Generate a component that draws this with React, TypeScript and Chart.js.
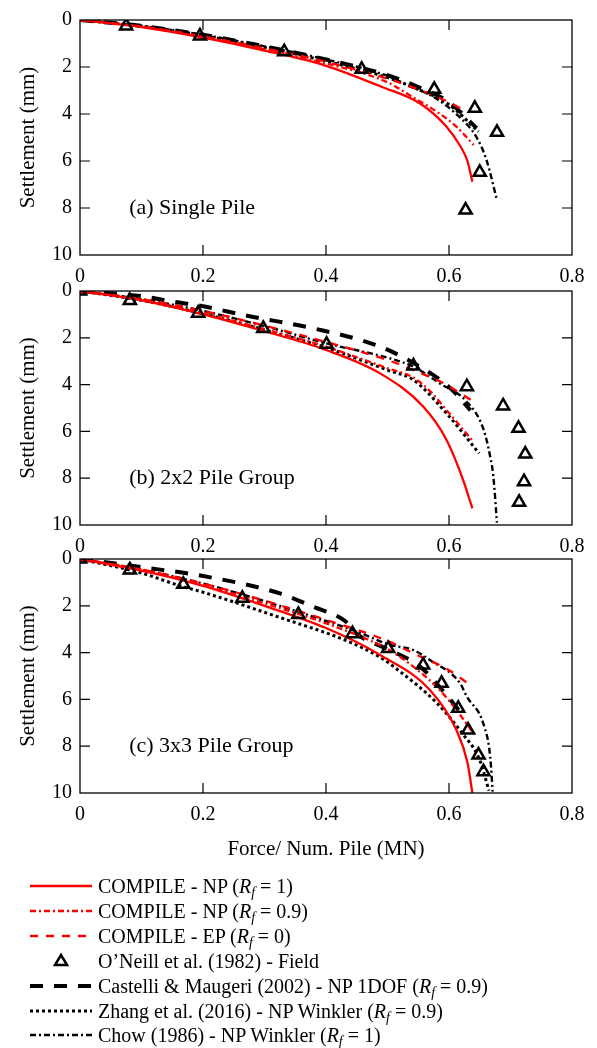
import React, { useEffect, useRef } from 'react';
import { Chart, registerables } from 'chart.js';
Chart.register(...registerables);

const FONT = "'Liberation Serif', 'Times New Roman', serif";

const xTickLabels = ['0', '0.2', '0.4', '0.6', '0.8'];
const yTickLabels = ['0', '2', '4', '6', '8', '10'];
const xTitle = 'Force/ Num. Pile (MN)';
const yTitle = 'Settlement (mm)';
const panelLabels = ['(a) Single Pile', '(b) 2x2 Pile Group', '(c) 3x3 Pile Group'];

// ---------- Panel (a) Single pile ----------
const aNP1 = [[0, 0], [0.1, 0.3], [0.2, 0.75], [0.3, 1.3], [0.4, 1.95], [0.49, 2.84], [0.553, 3.55], [0.596, 4.54], [0.618, 5.35], [0.63, 6.0], [0.638, 6.88]];
const aNP09 = [[0, 0], [0.1, 0.28], [0.2, 0.72], [0.3, 1.25], [0.4, 1.85], [0.5, 2.65], [0.542, 3.3], [0.58, 3.9], [0.612, 4.54], [0.64, 5.32]];
const aEP0 = [[0, 0], [0.1, 0.28], [0.2, 0.7], [0.3, 1.2], [0.4, 1.78], [0.5, 2.5], [0.55, 2.95], [0.6, 3.5], [0.625, 3.85]];
const aField = [[0.075, 0.25], [0.195, 0.68], [0.332, 1.35], [0.458, 2.1], [0.576, 2.95], [0.642, 3.76], [0.678, 4.78], [0.65, 6.48], [0.627, 8.09]];
const aCastelli = [[0, 0], [0.1, 0.25], [0.2, 0.63], [0.3, 1.12], [0.4, 1.68], [0.5, 2.35], [0.55, 2.85], [0.6, 3.5], [0.645, 4.6]];
const aZhang = [[0, 0], [0.1, 0.26], [0.2, 0.66], [0.3, 1.17], [0.4, 1.75], [0.5, 2.45], [0.55, 2.95], [0.6, 3.6], [0.648, 4.75]];
const aChow = [[0, 0], [0.1, 0.25], [0.2, 0.63], [0.3, 1.12], [0.4, 1.68], [0.5, 2.38], [0.534, 2.8], [0.574, 3.26], [0.62, 4.2], [0.645, 5.0], [0.661, 5.96], [0.678, 7.66]];

// ---------- Panel (b) 2x2 group ----------
const bNP1 = [[0, 0], [0.1, 0.4], [0.2, 1.0], [0.3, 1.72], [0.4, 2.52], [0.488, 3.52], [0.558, 4.94], [0.596, 6.37], [0.623, 8.08], [0.638, 9.29]];
const bNP09 = [[0, 0], [0.1, 0.38], [0.2, 0.95], [0.3, 1.63], [0.4, 2.38], [0.5, 3.3], [0.542, 3.7], [0.57, 4.3], [0.596, 5.09], [0.64, 6.45]];
const bEP0 = [[0, 0], [0.1, 0.35], [0.2, 0.85], [0.3, 1.48], [0.4, 2.18], [0.5, 2.95], [0.542, 3.38], [0.591, 3.94], [0.64, 4.73]];
const bField = [[0, 0], [0.081, 0.41], [0.192, 0.95], [0.298, 1.6], [0.401, 2.28], [0.542, 3.2], [0.629, 4.09], [0.688, 4.91], [0.713, 5.87], [0.724, 6.97], [0.722, 8.15], [0.714, 9.03]];
const bCastelli = [[0, 0], [0.1, 0.22], [0.15, 0.45], [0.2, 0.65], [0.27, 1.05], [0.38, 1.6], [0.48, 2.3], [0.53, 2.9], [0.6, 4.1], [0.635, 5.1]];
const bZhang = [[0, 0], [0.1, 0.4], [0.2, 0.97], [0.3, 1.66], [0.4, 2.42], [0.5, 3.38], [0.542, 3.8], [0.596, 5.23], [0.649, 6.94]];
const bChow = [[0, 0], [0.1, 0.35], [0.2, 0.85], [0.3, 1.5], [0.401, 2.24], [0.5, 2.85], [0.542, 3.23], [0.585, 3.95], [0.629, 4.73], [0.656, 5.9], [0.667, 7.08], [0.672, 7.9], [0.678, 9.9]];

// ---------- Panel (c) 3x3 group ----------
const cNP1 = [[0, 0], [0.1, 0.5], [0.2, 1.15], [0.3, 2.0], [0.4, 2.95], [0.488, 4.1], [0.569, 5.6], [0.612, 7.31], [0.63, 8.7], [0.638, 10]];
const cNP09 = [[0, 0], [0.1, 0.45], [0.2, 1.1], [0.3, 1.9], [0.4, 2.75], [0.5, 3.85], [0.542, 4.6], [0.585, 5.6], [0.612, 6.45], [0.637, 7.35]];
const cEP0 = [[0, 0], [0.1, 0.45], [0.2, 1.05], [0.3, 1.78], [0.4, 2.6], [0.5, 3.5], [0.542, 4.03], [0.6, 4.75], [0.638, 5.46]];
const cField = [[0, 0], [0.081, 0.47], [0.168, 1.08], [0.264, 1.68], [0.355, 2.37], [0.443, 3.19], [0.501, 3.82], [0.558, 4.53], [0.588, 5.31], [0.615, 6.38], [0.631, 7.31], [0.648, 8.38], [0.656, 9.09]];
const cCastelli = [[0, 0], [0.054, 0.18], [0.1, 0.35], [0.19, 0.68], [0.325, 1.47], [0.379, 2.04], [0.431, 2.65], [0.45, 3.2], [0.5, 3.85], [0.553, 4.6], [0.607, 6.17], [0.62, 6.6]];
const cZhang = [[0, 0], [0.1, 0.6], [0.163, 1.15], [0.2, 1.42], [0.325, 2.5], [0.434, 3.5], [0.488, 4.2], [0.515, 4.7], [0.58, 6.15], [0.62, 7.4], [0.65, 8.59], [0.665, 9.9]];
const cChow = [[0, 0], [0.1, 0.45], [0.2, 1.05], [0.3, 1.8], [0.4, 2.65], [0.45, 3.1], [0.504, 3.67], [0.542, 3.89], [0.569, 4.32], [0.618, 5.31], [0.629, 5.88], [0.656, 7.05], [0.667, 8.45], [0.671, 9.94]];

// ---------- Legend ----------
const legendNames = [
  'COMPILE - NP',
  'COMPILE - NP',
  'COMPILE - EP',
  'O\u2019Neill et al. (1982) - Field',
  'Castelli & Maugeri (2002) - NP 1DOF',
  'Zhang et al. (2016) - NP Winkler',
  'Chow (1986) - NP Winkler',
];
const legendRf = ['1', '0.9', '0', '', '0.9', '0.9', '1'];

type Style = { color: string; width: number; dash: number[]; marker?: boolean };
const seriesStyles: Style[] = [
  { color: '#ff0000', width: 2.3, dash: [] },
  { color: '#ff0000', width: 2.3, dash: [6, 3, 2, 3] },
  { color: '#ff0000', width: 2.3, dash: [8, 8] },
  { color: '#000000', width: 2.5, dash: [], marker: true },
  { color: '#000000', width: 4, dash: [13, 11] },
  { color: '#000000', width: 3, dash: [3, 3] },
  { color: '#000000', width: 2.4, dash: [6, 3, 2, 3] },
];

const panelSeries = [
  [aNP1, aNP09, aEP0, aField, aCastelli, aZhang, aChow],
  [bNP1, bNP09, bEP0, bField, bCastelli, bZhang, bChow],
  [cNP1, cNP09, cEP0, cField, cCastelli, cZhang, cChow],
];

function buildDatasets(series: number[][][]) {
  const ds: any[] = series.map((pts, i) => {
    const st = seriesStyles[i];
    const data = pts.map(([x, y]) => ({ x, y }));
    if (st.marker) {
      return {
        data,
        showLine: false,
        pointStyle: 'triangle',
        pointRadius: 7,
        pointBorderWidth: st.width,
        pointBorderColor: st.color,
        pointBackgroundColor: 'rgba(0,0,0,0)',
        order: 0,
      };
    }
    return {
      data,
      showLine: true,
      borderColor: st.color,
      borderWidth: st.width,
      borderDash: st.dash,
      pointRadius: 0,
      fill: false,
      cubicInterpolationMode: 'monotone',
      order: 1,
    };
  });
  return ds;
}

function makeFramePlugin(label: string) {
  return {
    id: 'frameTicks',
    afterDraw(chart: any) {
      const { ctx, chartArea: ca, scales } = chart;
      const xs = scales.x, ys = scales.y;
      ctx.save();
      ctx.strokeStyle = '#000';
      ctx.lineWidth = 1.3;
      ctx.strokeRect(ca.left, ca.top, ca.right - ca.left, ca.bottom - ca.top);
      ctx.lineWidth = 1.2;
      ctx.beginPath();
      xs.ticks.forEach((t: any) => {
        const px = xs.getPixelForValue(t.value);
        if (px <= ca.left + 1 || px >= ca.right - 1) return;
        ctx.moveTo(px, ca.bottom); ctx.lineTo(px, ca.bottom - 10);
        ctx.moveTo(px, ca.top); ctx.lineTo(px, ca.top + 10);
      });
      ys.ticks.forEach((t: any) => {
        const py = ys.getPixelForValue(t.value);
        if (py <= ca.top + 1 || py >= ca.bottom - 1) return;
        ctx.moveTo(ca.left, py); ctx.lineTo(ca.left + 10, py);
        ctx.moveTo(ca.right, py); ctx.lineTo(ca.right - 10, py);
      });
      ctx.stroke();
      ctx.font = `22px ${FONT}`;
      ctx.fillStyle = '#000';
      ctx.textAlign = 'left';
      ctx.textBaseline = 'middle';
      ctx.fillText(label, xs.getPixelForValue(0.08), ys.getPixelForValue(8));
      ctx.restore();
    },
  };
}

type PanelProps = {
  idx: number; top: number; height: number; padTop: number; xHeight: number; showXTitle: boolean; titlePadBottom: number;
};

function Panel({ idx, top, height, padTop, xHeight, showXTitle, titlePadBottom }: PanelProps) {
  const ref = useRef<HTMLCanvasElement>(null);
  useEffect(() => {
    const chart = new Chart(ref.current as HTMLCanvasElement, {
      type: 'scatter',
      data: { datasets: buildDatasets(panelSeries[idx]) },
      options: {
        responsive: false,
        maintainAspectRatio: false,
        animation: false,
        devicePixelRatio: 1,
        layout: { padding: { top: padTop, right: 25, left: 0, bottom: 0 } },
        plugins: { legend: { display: false }, tooltip: { enabled: false } },
        scales: {
          x: {
            type: 'linear', min: 0, max: 0.8,
            ticks: {
              stepSize: 0.2, padding: 10, color: '#000',
              font: { family: FONT, size: 20 },
              callback: (v: any) => xTickLabels[Math.round(Number(v) / 0.2)],
            },
            grid: { display: false, drawTicks: false },
            border: { display: false },
            title: {
              display: showXTitle, text: xTitle, color: '#000',
              font: { family: FONT, size: 21 },
              padding: { top: 0, bottom: titlePadBottom },
            },
            afterFit: (s: any) => { s.height = xHeight; s.paddingLeft = 0; s.paddingRight = 0; },
          },
          y: {
            type: 'linear', min: 0, max: 10, reverse: true,
            ticks: {
              stepSize: 2, padding: 8, color: '#000',
              font: { family: FONT, size: 20 },
              callback: (v: any) => yTickLabels[Math.round(Number(v) / 2)],
            },
            grid: { display: false, drawTicks: false },
            border: { display: false },
            title: {
              display: true, text: yTitle, color: '#000',
              font: { family: FONT, size: 21 },
              padding: { top: 16, bottom: 0 },
            },
            afterFit: (s: any) => { s.width = 80; s.paddingTop = 0; s.paddingBottom = 0; },
          },
        },
      } as any,
      plugins: [makeFramePlugin(panelLabels[idx])],
    });
    return () => chart.destroy();
  }, []);
  return (
    <canvas
      ref={ref}
      width={597}
      height={height}
      style={{ position: 'absolute', left: 0, top, width: 597, height }}
    />
  );
}

function LegendSample({ st }: { st: Style }) {
  if (st.marker) {
    return (
      <svg width={70} height={20} style={{ position: 'absolute', left: 28, top: 0 }}>
        <polygon points="61,4 67,14 55,14" transform="translate(-28,0)" fill="none" stroke="#000" strokeWidth={2.5} />
      </svg>
    );
  }
  return (
    <svg width={70} height={20} style={{ position: 'absolute', left: 28, top: 0 }}>
      <line x1={2} y1={10} x2={64} y2={10} stroke={st.color} strokeWidth={st.width}
        strokeDasharray={st.dash.length ? st.dash.join(' ') : undefined} />
    </svg>
  );
}

function Legend() {
  return (
    <div style={{ position: 'absolute', left: 0, top: 0, width: 597 }}>
      {legendNames.map((name, i) => {
        const cy = 886 + i * 24.9;
        return (
          <div key={i} style={{ position: 'absolute', left: 0, top: cy - 10, height: 20, width: 597 }}>
            <LegendSample st={seriesStyles[i]} />
            <div style={{
              position: 'absolute', left: 98, top: -2, height: 24, lineHeight: '24px',
              fontFamily: FONT, fontSize: 20, color: '#000', whiteSpace: 'nowrap',
            }}>
              {name}
              {legendRf[i] !== '' && (
                <>
                  {' ('}
                  <i>R</i>
                  <i style={{ fontSize: 14, position: 'relative', top: 4 }}>f</i>
                  {` = ${legendRf[i]})`}
                </>
              )}
            </div>
          </div>
        );
      })}
    </div>
  );
}

export default function App() {
  return (
    <div style={{ position: 'absolute', left: 0, top: 0, width: 597, height: 1048, background: '#fff' }}>
      <Panel idx={0} top={0} height={285} padTop={20} xHeight={30} showXTitle={false} titlePadBottom={0} />
      <Panel idx={1} top={265} height={288} padTop={26} xHeight={28} showXTitle={false} titlePadBottom={0} />
      <Panel idx={2} top={535} height={335} padTop={24} xHeight={77} showXTitle={true} titlePadBottom={8} />
      <Legend />
    </div>
  );
}
